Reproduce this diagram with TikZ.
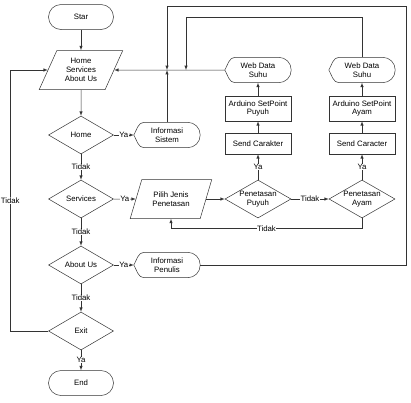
\documentclass[tikz,border=0pt]{standalone}
\usepackage{fontspec}
\setmainfont{Liberation Sans}
\usetikzlibrary{shapes.geometric,calc}

% outline of a display shape round a node
\newcommand{\dispshape}[1]{%
  \draw[line, rounded corners=12.5pt] ($(#1.north)+(-23,0)$) -- (#1.north east) -- (#1.south east) -- ($(#1.south)+(-23,0)$);
  \draw[line] ($(#1.north)+(-23,0)$) .. controls +(-6,0) and +(3,-5) .. (#1.west)
    .. controls +(3,5) and +(-6,0) .. ($(#1.south)+(-23,0)$);}

\begin{document}
\begin{tikzpicture}[x=1pt,y=-1pt,font=\fontsize{7.8}{8.8}\selectfont,
  every node/.style={align=center},
  line/.style={draw=black!80, line width=0.5pt},
  arr/.style={line, ->, >=latex},
  lbl/.style={fill=white, inner sep=0.5pt},
  term/.style={line, rectangle, rounded corners=12.5pt, minimum width=65, minimum height=25},
  io/.style={line, trapezium, trapezium left angle=63, trapezium right angle=117, trapezium stretches=true, minimum width=84, minimum height=39, inner sep=0pt},
  dec/.style={line, diamond, aspect=1.7, minimum width=65, minimum height=38, inner sep=0pt},
  proc/.style={line, rectangle, minimum width=66, minimum height=21},
  disp/.style={rectangle, minimum width=66, minimum height=25, inner sep=0pt}]
  \useasboundingbox (0,0) rectangle (411,402);

  % main column
  \node[term] (star) at (81,17) {Star};
  \node[io] (menu) at (81,70) {Home\\Services\\About Us};
  \node[dec] (home) at (81,135) {Home};
  \node[dec] (services) at (81,199) {Services};
  \node[dec] (about) at (81,265) {About Us};
  \node[dec] (exit) at (81,331) {Exit};
  \node[term] (end) at (81,383) {End};

  % outputs
  \node[disp] (infosis) at (167,135) {Informasi\\Sistem};
  \node[disp] (infopen) at (167,265) {Informasi\\Penulis};
  \dispshape{infosis}
  \dispshape{infopen}

  % penetasan
  \node[io, minimum width=82] (pilih) at (171,199) {Pilih Jenis\\Penetasan};
  \node[dec, minimum width=66] (puyuh) at (258,199) {Penetasan\\Puyuh};
  \node[dec, minimum width=66] (ayam) at (362,199) {Penetasan\\Ayam};
  \node[proc] (sendp) at (258,143.5) {Send Carakter};
  \node[proc] (senda) at (362,143.5) {Send Caracter};
  \node[proc, minimum height=25] (ardp) at (258,108.5) {Arduino SetPoint\\Puyuh};
  \node[proc, minimum height=25] (arda) at (362,108.5) {Arduino SetPoint\\Ayam};
  \node[disp] (webp) at (258,70) {Web Data\\Suhu};
  \node[disp] (weba) at (362,70) {Web Data\\Suhu};
  \dispshape{webp}
  \dispshape{weba}

  \coordinate (outer) at (406,6);
  \coordinate (inner) at (186,17);

  % connectors
  \draw[arr] (star) -- (menu);
  \draw[arr] (menu) -- (home);
  \draw[arr] (home) -- node[lbl]{Tidak} (services);
  \draw[arr] (services) -- node[lbl]{Tidak} (about);
  \draw[arr] (about) -- node[lbl]{Tidak} (exit);
  \draw[arr] (exit) -- node[lbl]{Ya} (end);
  \draw[arr] (home) -- node[lbl]{Ya} (infosis);
  \draw[arr] (services) -- node[lbl]{Ya} (pilih);
  \draw[arr] (about) -- node[lbl]{Ya} (infopen);
  \draw[arr] (pilih) -- (puyuh);
  \draw[arr] (puyuh) -- node[lbl]{Tidak} (ayam);
  \draw[arr] (puyuh) -- node[lbl]{Ya} (sendp);
  \draw[arr] (ayam) -- node[lbl]{Ya} (senda);
  \draw[arr] (sendp) -- (ardp);
  \draw[arr] (senda) -- (arda);
  \draw[arr] (ardp) -- (webp);
  \draw[arr] (arda) -- (weba);
  \draw[arr] (ayam.south) -- ++(0,10) -| node[lbl, pos=0.25]{Tidak} (pilih.south);
  \draw[arr] (webp) -- (menu);
  \draw[arr] (infosis) -- (infosis |- menu);
  \draw[arr] (infopen.east) -| (outer) -| (infosis |- menu);
  \draw[arr] (weba.north) |- (inner) -- (inner |- menu);
  \draw[arr] (exit.west) -- ++(-38,0) |- node[lbl, pos=0.25]{Tidak} (menu);
\end{tikzpicture}
\end{document}
